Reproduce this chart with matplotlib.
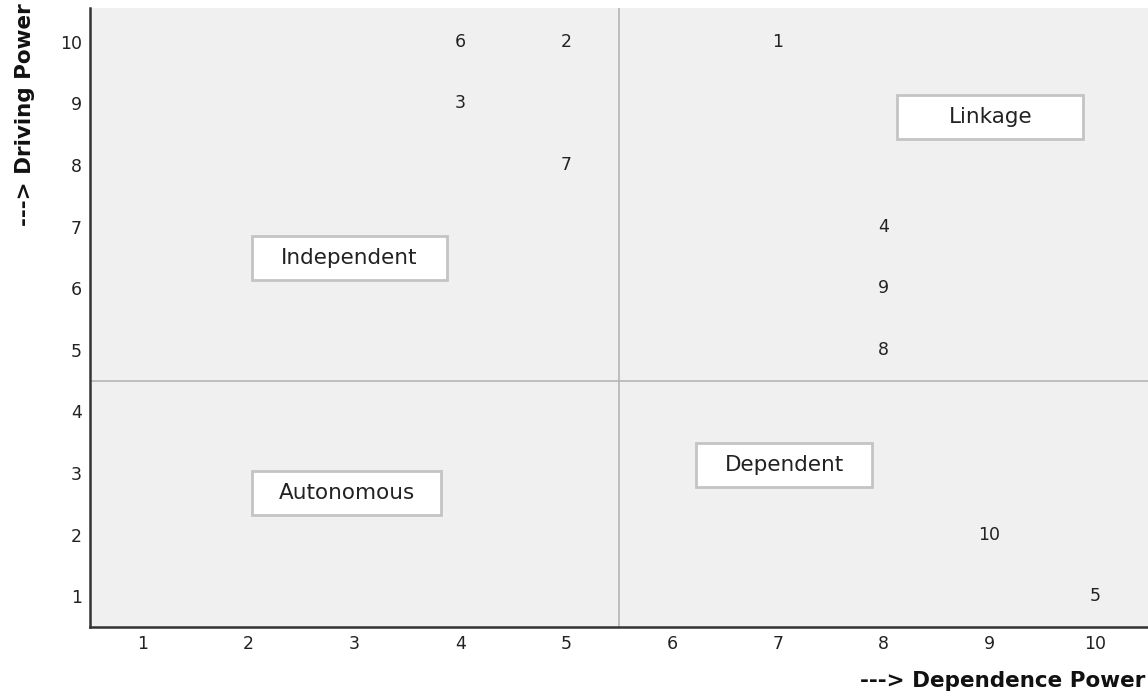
import matplotlib
matplotlib.use("Agg")
import matplotlib.pyplot as plt
from matplotlib.patches import Rectangle

# variables: id, dependence power (x), driving power (y)
var_ids    = ["1", "2", "3", "4", "5", "6", "7", "8", "9", "10"]
dependence = [7, 5, 4, 8, 10, 4, 5, 8, 8, 9]
driving    = [10, 10, 9, 7, 1, 10, 8, 5, 6, 2]

quadrant_names = ["Linkage", "Independent", "Dependent", "Autonomous"]
quadrant_x     = [9.01, 2.95, 7.06, 2.925]
quadrant_y     = [8.78, 6.49, 3.125, 2.68]

ticks = list(range(1, 11))

# box sizes (data units)
box_w = [1.76, 1.845, 1.656, 1.79]
box_h = 0.71

fig = plt.figure(figsize=(11.48, 7.0), dpi=100)
ax = fig.add_axes([90 / 1148, 1 - 627 / 700, (1148 - 90) / 1148, (627 - 8) / 700])
ax.set_facecolor("#f0f0f0")
ax.set_xlim(0.5, 10.5)
ax.set_ylim(0.5, 10.55)

ax.axvline(5.5, color="#b4b4b4", lw=1.2, zorder=1)
ax.axhline(4.5, color="#b4b4b4", lw=1.2, zorder=1)

for lab, x, y in zip(var_ids, dependence, driving):
    ax.text(x, y, lab, ha="center", va="center", fontsize=12.5, color="#222222", zorder=3)

for name, x, y, w in zip(quadrant_names, quadrant_x, quadrant_y, box_w):
    ax.add_patch(Rectangle((x - w / 2, y - box_h / 2), w, box_h, facecolor="white",
                           edgecolor="#c4c4c4", lw=2, zorder=2))
    ax.text(x, y, name, ha="center", va="center", fontsize=15.5, color="#222222", zorder=3)

ax.set_xticks(ticks)
ax.set_yticks(ticks)
ax.tick_params(length=0, labelsize=12.5, colors="#222222", pad=6)
for s in ["top", "right"]:
    ax.spines[s].set_visible(False)
for s in ["left", "bottom"]:
    ax.spines[s].set_color("#333333")
    ax.spines[s].set_linewidth(1.8)

fig.text(1145 / 1148, 1 - 681 / 700, "---> Dependence Power", ha="right", va="center",
         fontsize=15.5, fontweight="bold", color="#111111")
fig.text(25 / 1148, 1 - 3 / 700, "---> Driving Power", ha="center", va="top",
         rotation=90, fontsize=15.5, fontweight="bold", color="#111111")

fig.savefig("out.png", dpi=100)
